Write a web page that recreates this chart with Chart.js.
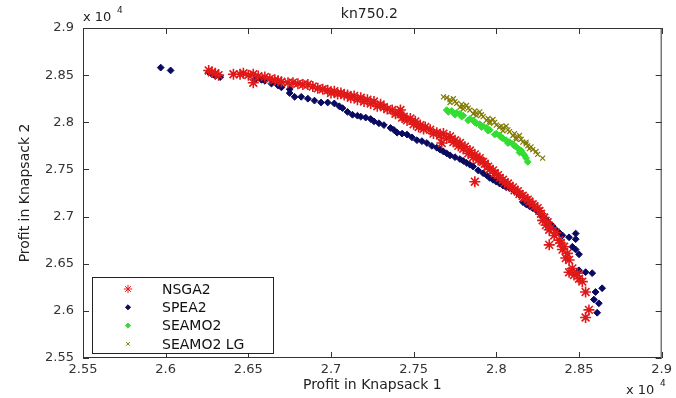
<!DOCTYPE html>
<html>
<head>
<meta charset="utf-8">
<script src="https://cdn.jsdelivr.net/npm/chart.js@4.4.0/dist/chart.umd.min.js"></script>
<style>
  html, body { margin: 0; padding: 0; background: #fff; }
  #wrap { width: 676px; height: 398px; }
</style>
</head>
<body>
<div id="wrap"><canvas id="grafico" width="676" height="398"></canvas></div>
<script>
// datos (unidades x 10^4)
const xTicks = [2.55, 2.6, 2.65, 2.7, 2.75, 2.8, 2.85, 2.9];
const yTicks = [2.55, 2.6, 2.65, 2.7, 2.75, 2.8, 2.85, 2.9];

const nsga2 = [
  [2.626,2.855],[2.628,2.853],[2.630,2.852],[2.632,2.850],[2.641,2.851],[2.645,2.851],
  [2.647,2.852],[2.650,2.850],[2.653,2.851],[2.656,2.849],[2.660,2.848],[2.663,2.846],
  [2.666,2.845],[2.668,2.844],[2.670,2.843],[2.674,2.842],[2.677,2.842],[2.680,2.841],
  [2.683,2.840],[2.686,2.840],[2.689,2.838],[2.692,2.836],[2.695,2.835],[2.698,2.834],
  [2.702,2.833],[2.706,2.831],[2.710,2.829],[2.714,2.828],[2.718,2.826],[2.722,2.824],
  [2.726,2.822],[2.730,2.819],[2.734,2.814],[2.737,2.813],[2.741,2.810],[2.744,2.806],
  [2.748,2.804],[2.751,2.801],[2.754,2.797],[2.757,2.795],[2.760,2.792],[2.764,2.789],
  [2.768,2.788],[2.772,2.785],[2.775,2.781],[2.778,2.778],[2.781,2.774],[2.784,2.770],
  [2.787,2.766],[2.790,2.762],[2.793,2.756],[2.796,2.750],[2.799,2.746],[2.802,2.741],
  [2.805,2.736],[2.808,2.732],[2.811,2.728],[2.814,2.724],[2.817,2.720],[2.820,2.716],
  [2.823,2.711],[2.826,2.706],[2.828,2.696],[2.830,2.691],[2.832,2.686],[2.835,2.680],
  [2.838,2.675],[2.840,2.665],[2.842,2.656],[2.844,2.654],[2.844,2.641],[2.847,2.638],
  [2.850,2.634],[2.852,2.631],[2.854,2.620],[2.856,2.601],[2.854,2.593],
  [2.653,2.842],[2.742,2.813],[2.787,2.737],[2.832,2.670],[2.767,2.778],
  [2.700,2.831],[2.704,2.830],[2.708,2.829],[2.712,2.826],[2.716,2.824],[2.720,2.822],
  [2.724,2.820],[2.728,2.817],[2.732,2.816],[2.739,2.809],[2.743,2.805],[2.746,2.802],
  [2.750,2.798],[2.753,2.795],[2.756,2.793],[2.762,2.788],[2.766,2.786],[2.770,2.783],
  [2.774,2.779],[2.777,2.775],[2.780,2.772],[2.783,2.767],[2.786,2.763],[2.789,2.760],
  [2.792,2.758],[2.795,2.753],[2.798,2.749],[2.801,2.744],[2.804,2.739],[2.807,2.735],
  [2.810,2.731],[2.813,2.727],[2.816,2.722],[2.819,2.718],[2.822,2.713],[2.825,2.709],
  [2.827,2.703],[2.829,2.699],[2.831,2.694],[2.833,2.688],[2.836,2.683],[2.839,2.672],
  [2.841,2.668],[2.843,2.661],[2.846,2.645],[2.849,2.640]
];

const spea2 = [
  [2.597,2.858],[2.603,2.855],[2.626,2.853],[2.628,2.851],[2.630,2.849],[2.633,2.848],
  [2.654,2.845],[2.658,2.845],[2.660,2.844],[2.664,2.841],[2.668,2.839],[2.670,2.837],
  [2.675,2.835],[2.675,2.831],[2.678,2.827],[2.682,2.827],[2.686,2.825],[2.690,2.823],
  [2.694,2.821],[2.698,2.821],[2.702,2.820],[2.707,2.815],[2.713,2.808],[2.718,2.806],
  [2.724,2.8035],[2.729,2.799],[2.736,2.794],[2.740,2.789],[2.746,2.787],[2.752,2.781],
  [2.758,2.778],[2.764,2.773],[2.768,2.769],[2.772,2.765],[2.778,2.761],[2.782,2.757],
  [2.786,2.753],[2.792,2.746],[2.796,2.741],[2.800,2.737],[2.804,2.733],[2.808,2.730],
  [2.814,2.723],[2.816,2.7155],[2.820,2.711],[2.824,2.707],[2.828,2.700],[2.832,2.693],
  [2.836,2.686],[2.840,2.680],[2.848,2.682],[2.848,2.676],[2.848,2.665],[2.850,2.660],
  [2.850,2.643],[2.854,2.641],[2.858,2.640],[2.860,2.620],[2.864,2.624],[2.859,2.612],
  [2.862,2.608],[2.861,2.598],
  [2.705,2.817],[2.710,2.811],[2.716,2.807],[2.721,2.805],[2.726,2.801],[2.732,2.797],
  [2.738,2.792],[2.743,2.788],[2.749,2.784],[2.755,2.780],[2.761,2.775],[2.766,2.771],
  [2.770,2.767],[2.775,2.763],[2.780,2.759],[2.784,2.755],[2.789,2.749],[2.794,2.744],
  [2.798,2.739],[2.802,2.735],[2.806,2.731],[2.811,2.727],[2.818,2.713],[2.822,2.709],
  [2.826,2.704],[2.830,2.697],[2.834,2.690],[2.838,2.683],[2.844,2.678],[2.846,2.668]
];

const seamo2 = [
  [2.773,2.812],[2.776,2.810],[2.780,2.807],[2.784,2.8035],[2.788,2.799],[2.792,2.796],
  [2.796,2.792],[2.800,2.788],[2.804,2.783],[2.808,2.779],[2.812,2.774],[2.815,2.770],
  [2.817,2.765],[2.819,2.758],[2.770,2.813],[2.790,2.798],[2.806,2.781],[2.814,2.768],
  [2.771,2.811],[2.775,2.808],[2.779,2.806],[2.783,2.802],[2.787,2.800],[2.791,2.795],
  [2.795,2.791],[2.799,2.787],[2.803,2.784],[2.807,2.778],[2.811,2.775],[2.814,2.771],
  [2.816,2.767],[2.818,2.762],[2.778,2.809],[2.786,2.802],[2.794,2.794],[2.802,2.786],
  [2.810,2.777]
];

const seamo2lg = [
  [2.768,2.827],[2.772,2.824],[2.776,2.820],[2.780,2.817],[2.784,2.813],[2.788,2.810],
  [2.792,2.806],[2.796,2.801],[2.800,2.797],[2.804,2.794],[2.808,2.790],[2.812,2.784],
  [2.816,2.779],[2.819,2.775],[2.822,2.771],[2.825,2.766],[2.828,2.762],
  [2.774,2.825],[2.782,2.818],[2.790,2.811],[2.798,2.803],[2.806,2.796],[2.814,2.786],
  [2.778,2.816],[2.786,2.809],[2.794,2.802],[2.802,2.795],[2.810,2.786],[2.818,2.777],
  [2.770,2.826],[2.775,2.822],[2.779,2.819],[2.783,2.815],[2.787,2.812],[2.791,2.808],
  [2.795,2.804],[2.799,2.800],[2.803,2.796],[2.807,2.792],[2.811,2.788],[2.815,2.782],
  [2.818,2.779],[2.821,2.774],[2.824,2.769],[2.772,2.821],[2.780,2.814],[2.788,2.807],
  [2.796,2.799],[2.804,2.791],[2.812,2.782],[2.820,2.772]
];

const series = [
  { label: 'NSGA2', data: nsga2, color: '#ff1a1a', border: '#e01818', style: 'star', r: 5.5, bw: 1.6 },
  { label: 'SPEA2', data: spea2, color: '#0a0a60', border: '#0a0a60', style: 'rectRot', r: 3.4, bw: 1 },
  { label: 'SEAMO2', data: seamo2, color: '#33dd33', border: '#33dd33', style: 'rectRot', r: 3.4, bw: 1 },
  { label: 'SEAMO2 LG', data: seamo2lg, color: '#7f7a00', border: '#7f7a00', style: 'crossRot', r: 3.5, bw: 1.2 }
];

const fuente = 'DejaVu Sans, Liberation Sans, sans-serif';

function fmt(v) { return String(Number(v.toFixed(2))); }

// caja, marcas hacia adentro, textos extra y leyenda
const decoracion = {
  id: 'decoracion',
  afterDraw(chart) {
    const ctx = chart.ctx;
    const a = chart.chartArea;
    const sx = chart.scales.x, sy = chart.scales.y;
    ctx.save();
    ctx.strokeStyle = '#333';
    ctx.lineWidth = 1;
    ctx.strokeRect(a.left + 0.5, a.top + 0.5, a.right - a.left - 1, a.bottom - a.top - 1);
    ctx.beginPath();
    xTicks.forEach(v => {
      const px = Math.round(sx.getPixelForValue(v)) + 0.5;
      ctx.moveTo(px, a.bottom); ctx.lineTo(px, a.bottom - 6);
      ctx.moveTo(px, a.top); ctx.lineTo(px, a.top + 6);
    });
    yTicks.forEach(v => {
      const py = Math.round(sy.getPixelForValue(v)) + 0.5;
      ctx.moveTo(a.left, py); ctx.lineTo(a.left + 6, py);
      ctx.moveTo(a.right, py); ctx.lineTo(a.right - 6, py);
    });
    ctx.stroke();

    // titulo y factores x 10^4
    ctx.fillStyle = '#222';
    ctx.textBaseline = 'middle';
    ctx.textAlign = 'center';
    ctx.font = '14px ' + fuente;
    ctx.fillText('kn750.2', (a.left + a.right) / 2 - 3, 14);
    ctx.textAlign = 'left';
    ctx.font = '13px ' + fuente;
    ctx.fillText('x 10', 83, 18);
    ctx.fillText('x 10', 626, 391);
    ctx.font = '9px ' + fuente;
    ctx.fillText('4', 117, 11);
    ctx.fillText('4', 660, 384);

    // leyenda
    const lx = 92, ly = 277, lw = 181, lh = 76;
    ctx.fillStyle = '#fff';
    ctx.fillRect(lx, ly, lw, lh);
    ctx.strokeStyle = '#222';
    ctx.strokeRect(lx + 0.5, ly + 0.5, lw, lh);
    series.forEach((s, i) => {
      const yy = ly + 12 + i * 18.3;
      ctx.fillStyle = s.color; ctx.strokeStyle = s.border;
      ctx.lineWidth = 1;
      Chart.helpers.drawPoint(ctx, { pointStyle: s.style, radius: s.r * 0.75, borderWidth: 1, rotation: 0 }, 128, yy);
      ctx.fillStyle = '#111';
      ctx.font = '14px ' + fuente;
      ctx.textAlign = 'left';
      ctx.fillText(s.label, 162, yy + 1);
    });
    ctx.restore();
  }
};

new Chart(document.getElementById('grafico'), {
  type: 'scatter',
  data: {
    datasets: series.map(s => ({
      label: s.label,
      data: s.data.map(p => ({ x: p[0], y: p[1] })),
      pointStyle: s.style,
      pointRadius: s.r,
      pointBorderWidth: s.bw,
      backgroundColor: s.color,
      borderColor: s.border
    }))
  },
  options: {
    responsive: false,
    animation: false,
    layout: { padding: { top: 28, right: 8, left: 0, bottom: 0 } },
    plugins: { legend: { display: false }, tooltip: { enabled: false } },
    scales: {
      x: {
        type: 'linear', min: 2.55, max: 2.9,
        afterBuildTicks: sc => { sc.ticks = xTicks.map(v => ({ value: v })); },
        afterFit: sc => { sc.height = 40; },
        grid: { display: false, drawTicks: false },
        border: { display: false },
        ticks: { callback: fmt, padding: 4, color: '#333', font: { family: fuente, size: 13 }, maxRotation: 0, autoSkip: false },
        title: { display: true, text: 'Profit in Knapsack 1', color: '#222', font: { family: fuente, size: 14 }, padding: { top: 0, bottom: 4 } }
      },
      y: {
        type: 'linear', min: 2.55, max: 2.9,
        afterBuildTicks: sc => { sc.ticks = yTicks.map(v => ({ value: v })); },
        afterFit: sc => { sc.width = 83; },
        grid: { display: false, drawTicks: false },
        border: { display: false },
        ticks: { callback: fmt, padding: 9, color: '#333', font: { family: fuente, size: 13 }, autoSkip: false },
        title: { display: true, text: 'Profit in Knapsack 2', color: '#222', font: { family: fuente, size: 14 }, padding: { top: 17, bottom: 0 } }
      }
    }
  },
  plugins: [decoracion]
});
</script>
</body>
</html>
